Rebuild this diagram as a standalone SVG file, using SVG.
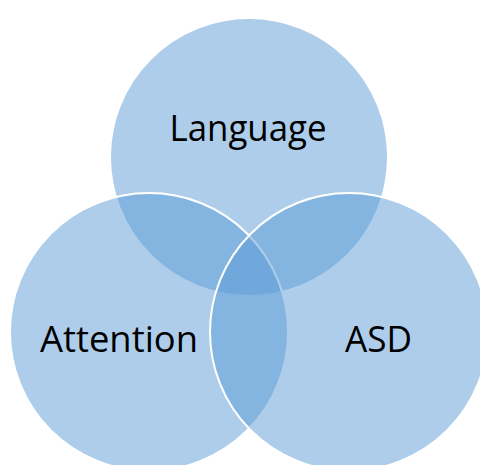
<svg xmlns="http://www.w3.org/2000/svg" width="480" height="465" viewBox="0 0 480 465">
  <style>
    .c { fill: #5B9BD5; fill-opacity: 0.5; stroke: #FFFFFF; stroke-width: 2; }
    .t { font-family: "Open Sans", "Noto Sans", "Liberation Sans", sans-serif; font-size: 36px; fill: #000000; text-anchor: middle; }
  </style>
  <rect x="0" y="0" width="480" height="465" fill="#FFFFFF"/>
  <g id="language">
    <circle class="c" cx="249" cy="157" r="139"/>
    <text class="t" x="248" y="141" textLength="157" lengthAdjust="spacingAndGlyphs">Language</text>
  </g>
  <g id="attention">
    <circle class="c" cx="149" cy="332" r="139"/>
    <text class="t" x="119" y="352" textLength="158" lengthAdjust="spacingAndGlyphs">Attention</text>
  </g>
  <g id="asd">
    <circle class="c" cx="349" cy="332" r="139"/>
    <text class="t" x="378.5" y="352" textLength="67" lengthAdjust="spacingAndGlyphs">ASD</text>
  </g>
  <g id="connectors"/>
</svg>
